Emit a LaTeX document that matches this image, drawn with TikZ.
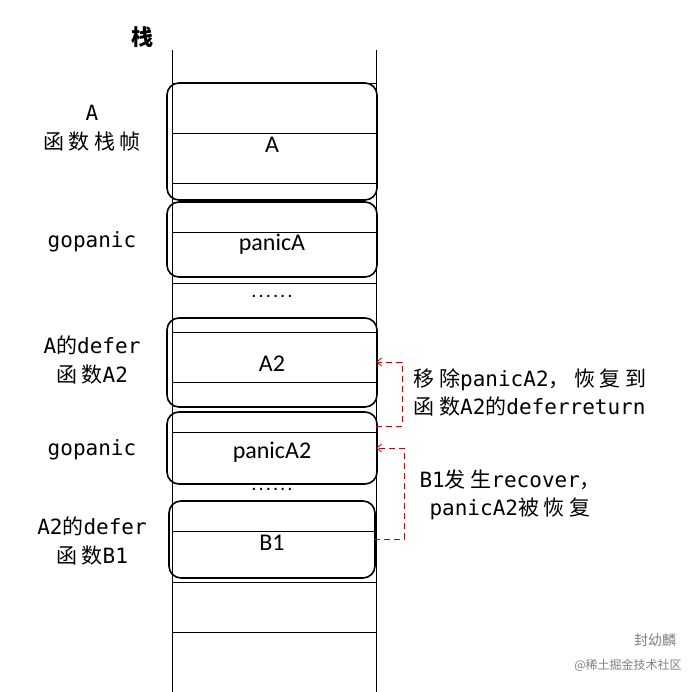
\documentclass[tikz,border=0pt]{standalone}
\usepackage{fontspec}
\setmainfont{DejaVu Sans Mono}
\newfontfamily\cjkf[LetterSpace=22]{Noto Sans CJK SC}
\newfontfamily\cjkplain{Noto Sans CJK SC}
\newcommand\C[1]{{\cjkf #1}}
\newfontfamily\inbox{Carlito}
\usetikzlibrary{arrows.meta}
\begin{document}
\begin{tikzpicture}[x=1pt,y=-1pt,
  frame/.style={draw,line width=1.6pt,rounded corners=12pt},
  thin/.style={draw,line width=0.8pt},
  lbl/.style={font=\fontsize{21}{29}\selectfont,align=center},
  inl/.style={font=\inbox\fontsize{24}{28}\selectfont},
  note/.style={font=\fontsize{21}{28}\selectfont,align=left,anchor=west},
  red/.style={draw=red!80!black,line width=0.8pt,dash pattern=on 6pt off 4pt},
  arr/.style={red,-{Straight Barb[length=5pt,width=8pt]}}]
\useasboundingbox (0,0) rectangle (698,692);
\fill[white] (0,0) rectangle (698,692);
% stack edges
\draw[thin] (172,50) -- (172,692);
\draw[thin] (376,50) -- (376,692);
\foreach \y in {83,133,183,232,283,332,382,432,531,582,632}
  \draw[thin] (172,\y) -- (376,\y);
% frames
\node[frame,minimum width=210pt,minimum height=117pt] (fa) at (272,141.5) {};
\node[frame,minimum width=210pt,minimum height=75pt] (fp) at (272,239.5) {};
\node[frame,minimum width=210pt,minimum height=89pt] (fa2) at (272,362.5) {};
\node[frame,minimum width=210pt,minimum height=72pt] (fp2) at (272,448) {};
\node[frame,minimum width=206pt,minimum height=77pt] (fb1) at (272,539.5) {};
\node[inl] (ta) at (272,145) {A};
\node[inl] (tp) at (272,244) {panicA};
\node[inl] (ta2) at (272,364) {A2};
\node[inl] (tp2) at (272,452) {panicA2};
\node[inl] (tb1) at (272,543) {B1};
\node[font=\bfseries\fontsize{12}{12}\selectfont] (d1) at (272,296) {......};
\node[font=\bfseries\fontsize{12}{12}\selectfont] (d2) at (272,489) {......};
\node[font=\cjkplain\fontsize{22}{26}\selectfont\bfseries] (zhan) at (142,37) {栈};
% left labels
\node[lbl] (la) at (92,128) {A\\\C{函数栈帧}};
\node[lbl] (lg1) at (92,242) {gopanic};
\node[lbl] (la2) at (92,360) {A\C{的}defer\\\C{函数}A2};
\node[lbl] (lg2) at (92,450) {gopanic};
\node[lbl] (lb1) at (92,541) {A2\C{的}defer\\\C{函数}B1};
% connectors
\coordinate (c1) at (376,426);
\coordinate (c1t) at (376,362);
\coordinate (c2) at (374,539);
\coordinate (c2t) at (376,448);
\draw[arr] (c1) -- (402,426) -- (402,362) -- (c1t);
\draw[arr] (c2) -- (404,539) -- (404,448) -- (c2t);
\node[note] (n1) at (410,392) {\C{移除}panicA2\C{，恢复到}\\\C{函数}A2\C{的}deferreturn};
\node[note] (n2) at (416,495) {B1\C{发生}recover\C{，}\\\hspace*{10pt}panicA2\C{被恢复}};
% watermark
\node[font=\cjkplain\fontsize{14}{16}\selectfont,text=gray] (w1) at (655,640) {封幼麟};
\node[font=\cjkplain\fontsize{12}{14}\selectfont,text=gray] (w2) at (628,665) {@稀土掘金技术社区};
\end{tikzpicture}
\end{document}
